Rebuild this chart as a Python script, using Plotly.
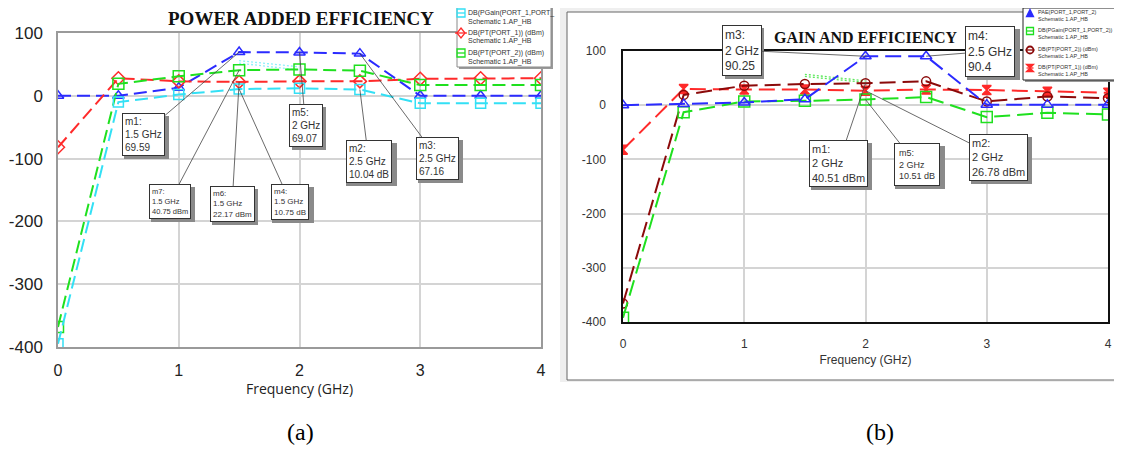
import plotly.graph_objects as go

# ---------------- data ----------------
freq = [0, 0.5, 1, 1.5, 2, 2.5, 3, 3.5, 4]

# panel (a) POWER ADDED EFFICIENCY
pae_a = [0, 0, 13, 69.59, 69.07, 67.16, 0, 0, 0]
pgain_a = [-395, -10, 2, 10.75, 12, 10.04, -12, -12, -12]
pt1_a = [-82, 28, 23, 22.17, 23, 23, 27, 28, 28]
pt2_a = [-368, 19, 31, 40.75, 42, 40, 17, 17, 17]
# faint dotted traces between 1.5 and 2 GHz
dotted_freq = [1.5, 2.0]
dotted_a1 = [56, 46]
dotted_a2 = [52, 41]

# panel (b) GAIN AND EFFICIENCY
pae_b = [0, 2, 5, 11, 90.25, 90.4, 1, 1, 1]
pgain_b = [-392, -13, 7, 8, 10.51, 15, -22, -14, -17]
pt2_b = [-366, 19, 36, 39, 40.51, 44, 7, 16, 13]
pt1_b = [-82, 30, 29, 29, 26.78, 29, 28, 25, 23]
dotted_b1 = [57, 45]
dotted_b2 = [53, 42]

x_ticks = [0, 1, 2, 3, 4]
y_ticks = [-400, -300, -200, -100, 0, 100]
y_tick_text = ["-400", "-300", "-200", "-100", "0", "100"]

legend_a = [("DB(PGain(PORT_1,PORT_", "Schematic 1.AP_HB"),
            ("DB(PT(PORT_1)) (dBm)", "Schematic 1.AP_HB"),
            ("DB(PT(PORT_2)) (dBm)", "Schematic 1.AP_HB")]
legend_b = [("PAE(PORT_1,PORT_2)", "Schematic 1.AP_HB"),
            ("DB(PGain(PORT_1,PORT_2))", "Schematic 1.AP_HB"),
            ("DB(PT(PORT_2)) (dBm)", "Schematic 1.AP_HB"),
            ("DB(PT(PORT_1)) (dBm)", "Schematic 1.AP_HB")]

# marker callouts: (name, freq, value, label lines)
markers_a = [
    ("m1", 1.5, 69.59, ["m1:", "1.5 GHz", "69.59"]),
    ("m5", 2.0, 69.07, ["m5:", "2 GHz", "69.07"]),
    ("m2", 2.5, 10.04, ["m2:", "2.5 GHz", "10.04 dB"]),
    ("m3", 2.5, 67.16, ["m3:", "2.5 GHz", "67.16"]),
    ("m7", 1.5, 40.75, ["m7:", "1.5 GHz", "40.75 dBm"]),
    ("m6", 1.5, 22.17, ["m6:", "1.5 GHz", "22.17 dBm"]),
    ("m4", 1.5, 10.75, ["m4:", "1.5 GHz", "10.75 dB"]),
]
markers_b = [
    ("m3", 2.0, 90.25, ["m3:", "2 GHz", "90.25"]),
    ("m4", 2.5, 90.4, ["m4:", "2.5 GHz", "90.4"]),
    ("m1", 2.0, 40.51, ["m1:", "2 GHz", "40.51 dBm"]),
    ("m5", 2.0, 10.51, ["m5:", "2 GHz", "10.51 dB"]),
    ("m2", 2.0, 26.78, ["m2:", "2 GHz", "26.78 dBm"]),
]

# ---------------- layout helpers ----------------
W, H = 1122, 452
OFF = 8  # page body margin
def px(v):
    return (v - OFF) / W
def py(v):
    return 1 - (v - OFF) / H

BLUE = "#2b2bff"
RED = "#ff2a2a"
GREEN = "#1fe01f"
CYAN = "#33e0f5"
MAROON = "#8b0a0a"

FONT = "Arial, Liberation Sans, sans-serif"
SERIF = "Times New Roman, Liberation Serif, serif"

fig = go.Figure()

dash_a = "13px,6px"
dash_b = "16px,7px"

def add_series(x, y, color, symbol, xa, ya, dash, size=10):
    fig.add_trace(go.Scatter(
        x=x, y=y, mode="lines+markers", xaxis=xa, yaxis=ya,
        line=dict(color=color, width=2, dash=dash),
        marker=dict(symbol=symbol, size=size, color=color,
                    line=dict(color=color, width=1.5)),
        showlegend=False, hoverinfo="x+y"))

def add_dotted(x, y, color, xa, ya):
    fig.add_trace(go.Scatter(
        x=x, y=y, mode="lines", xaxis=xa, yaxis=ya,
        line=dict(color=color, width=1.3, dash="2px,2px"),
        showlegend=False, hoverinfo="skip"))

# panel (a)
add_dotted(dotted_freq, dotted_a1, "#8ff0fa", "x", "y")
add_dotted(dotted_freq, dotted_a2, "#8ff0fa", "x", "y")
add_series(freq, pae_a, BLUE, "triangle-up-open", "x", "y", dash_a)
add_series(freq, pt1_a, RED, "diamond-open", "x", "y", dash_a)
add_series(freq, pt2_a, GREEN, "square-open", "x", "y", dash_a, 11)
add_series(freq, pgain_a, CYAN, "square-open", "x", "y", dash_a)

# panel (b)
add_dotted(dotted_freq, dotted_b1, "#5ee85e", "x2", "y2")
add_dotted(dotted_freq, dotted_b2, "#5ee85e", "x2", "y2")
add_series(freq, pt1_b, RED, "hourglass", "x2", "y2", dash_b, 9)
add_series(freq, pt2_b, MAROON, "circle-open", "x2", "y2", dash_b, 9)
add_series(freq, pgain_b, GREEN, "square-open", "x2", "y2", dash_b, 11)
add_series(freq, pae_b, BLUE, "triangle-up-open", "x2", "y2", dash_b)

axis_common = dict(showgrid=True, gridcolor="#d4d4d4", gridwidth=1.5,
                   zeroline=False, showline=True, mirror=True, ticks="",
                   automargin=False)

fig.update_layout(
    width=W, height=H, margin=dict(l=0, r=0, t=0, b=0, autoexpand=False),
    paper_bgcolor="white", plot_bgcolor="white", showlegend=False,
    xaxis=dict(domain=[px(58), px(541)], range=[0, 4], tickvals=x_ticks,
               anchor="y", linecolor="#9a9a9a", linewidth=1.5,
               tickfont=dict(family=FONT, size=16, color="#222"),
               ticklabelstandoff=8,
               title=dict(text="Frequency (GHz)", standoff=4,
                          font=dict(family="Open Sans, " + FONT, size=14, color="#222")),
               **axis_common),
    yaxis=dict(domain=[py(347), py(33)], range=[-400, 100], tickvals=y_ticks,
               ticktext=y_tick_text, anchor="x", linecolor="#9a9a9a", linewidth=1.5,
               tickfont=dict(family=FONT, size=17, color="#222"),
               ticklabelstandoff=10, **axis_common),
    xaxis2=dict(domain=[px(623), px(1108)], range=[0, 4], tickvals=x_ticks,
                anchor="y2", linecolor="#111", linewidth=1.5,
                tickfont=dict(family=FONT, size=12, color="#333"),
                ticklabelstandoff=10,
                title=dict(text="Frequency (GHz)", standoff=5,
                           font=dict(family=FONT, size=12, color="#333")),
                **axis_common),
    yaxis2=dict(domain=[py(322), py(51)], range=[-400, 100], tickvals=y_ticks,
                ticktext=y_tick_text, anchor="x2", linecolor="#111", linewidth=1.5,
                tickfont=dict(family=FONT, size=12, color="#333"),
                ticklabelstandoff=13, **axis_common),
)

shapes = [
    # gray backdrop of window (b)
    dict(type="rect", xref="paper", yref="paper", x0=px(560), x1=1.05,
         y0=py(382), y1=1.05, fillcolor="#efefef", line=dict(width=0), layer="below"),
    dict(type="rect", xref="paper", yref="paper", x0=px(567), x1=1.05,
         y0=py(380), y1=py(12), fillcolor="white",
         line=dict(color="#666", width=1), layer="below"),
    # top border line of (a)
    dict(type="line", xref="paper", yref="paper", x0=px(8), x1=px(555),
         y0=py(3), y1=py(3), line=dict(color="#9a9a9a", width=1.5), layer="below"),
]

ann = []

# ---------------- custom legends ----------------
def legend_box(x0, y0, x1, y1, border):
    shapes.append(dict(type="rect", xref="paper", yref="paper",
                       x0=px(x0 + 2), x1=px(x1 + 2), y0=py(y1 + 2), y1=py(y0 + 2),
                       fillcolor="#9a9a9a", line=dict(width=0), layer="above"))
    shapes.append(dict(type="rect", xref="paper", yref="paper",
                       x0=px(x0), x1=px(x1), y0=py(y1), y1=py(y0),
                       fillcolor="white", line=dict(color=border, width=1), layer="above"))

def path_shape(pts, color, fill):
    d = "M " + " L ".join(f"{px(a):.5f},{py(b):.5f}" for a, b in pts) + " Z"
    shapes.append(dict(type="path", xref="paper", yref="paper", path=d,
                       fillcolor=fill, line=dict(color=color, width=1.3), layer="above"))

def hline(x0, x1, y, color):
    shapes.append(dict(type="line", xref="paper", yref="paper", x0=px(x0), x1=px(x1),
                       y0=py(y), y1=py(y), line=dict(color=color, width=1.3), layer="above"))

def sym(kind, cx, cy, r, color):
    if kind == "square":
        path_shape([(cx - r, cy - r), (cx + r, cy - r), (cx + r, cy + r), (cx - r, cy + r)],
                   color, "rgba(0,0,0,0)")
        hline(cx - r, cx + r, cy, color)
    elif kind == "diamond":
        path_shape([(cx, cy - r - 1), (cx + r, cy), (cx, cy + r + 1), (cx - r, cy)],
                   color, "rgba(0,0,0,0)")
        hline(cx - r - 2, cx + r + 2, cy, color)
    elif kind == "triangle":
        path_shape([(cx, cy - r), (cx + r, cy + r), (cx - r, cy + r)], color, color)
    elif kind == "circle":
        shapes.append(dict(type="circle", xref="paper", yref="paper",
                           x0=px(cx - r), x1=px(cx + r), y0=py(cy + r), y1=py(cy - r),
                           fillcolor="rgba(0,0,0,0)", line=dict(color=color, width=1.8),
                           layer="above"))
        hline(cx - r - 1, cx + r + 1, cy, color)
    elif kind == "hourglass":
        path_shape([(cx - r, cy - r), (cx + r, cy - r), (cx - r, cy + r), (cx + r, cy + r)],
                   color, color)
        hline(cx - r, cx + r, cy, color)

def legend_text(x, y, text, size):
    ann.append(dict(text=text, x=px(x), y=py(y), xref="paper", yref="paper",
                    xanchor="left", yanchor="middle", showarrow=False,
                    font=dict(family=FONT, size=size, color="#333")))

# legend (a)
legend_box(457, 4, 551, 67, "#8a8a8a")
for (l1, l2), kind, color, yc in zip(legend_a, ["square", "diamond", "square"],
                                      [CYAN, RED, GREEN], [13, 33, 53]):
    sym(kind, 461, yc, 4, color)
    legend_text(466, yc, l1, 7.0)
    legend_text(466, yc + 8.5, l2, 7.0)

# legend (b)
legend_box(1023, 8, 1130, 80, "#222")
for (l1, l2), kind, color, yc in zip(legend_b, ["triangle", "square", "circle", "hourglass"],
                                      [BLUE, GREEN, MAROON, RED], [13, 31, 50, 68]):
    sym(kind, 1030, yc, 3.5, color)
    legend_text(1036, yc - 1, l1, 5.5)
    legend_text(1036, yc + 6, l2, 5.5)

fig.update_layout(shapes=shapes)

def label(text, x, y, size, family=SERIF, color="#111"):
    ann.append(dict(text=text, x=px(x), y=py(y), xref="paper", yref="paper",
                    xanchor="center", yanchor="middle", showarrow=False,
                    font=dict(family=family, size=size, color=color)))

# titles and captions
label("<b>POWER ADDED EFFICIENCY</b>", 301, 18, 19)
label("<b>GAIN AND EFFICIENCY</b>", 866, 37, 16)
label("(a)", 300, 432, 24, color="#000")
label("(b)", 880, 432, 24, color="#000")

# marker callouts: box centre offset (px) relative to marked point, font size, padding
off_a = {"m1": (-96, 82, 10, 2), "m5": (6, 73, 10, 2), "m2": (9, 72, 10, 2),
         "m3": (78, 105, 10, 2), "m7": (-69, 131, 7.5, 2), "m6": (-7, 122, 8, 2),
         "m4": (51, 113, 8, 2)}
off_b = {"m3": (-124, -6, 12, 2), "m4": (64, -5, 12, 2), "m1": (-27, 80, 11, 2),
         "m5": (51, 65, 9, 4), "m2": (133, 67, 11, 2)}

FIG_SPACE = "\u2007"

def callouts(items, offs, xr, yr):
    for key, fx, fv, lines in items:
        dx, dy, fs, pad = offs[key]
        text = "<br>".join(lines)
        blank = "<br>".join(FIG_SPACE * len(l) for l in lines)
        # drop shadow (blank box of the same size, shifted)
        ann.append(dict(x=fx, y=fv, xref=xr, yref=yr, ax=dx, ay=dy, text=blank,
                        showarrow=True, arrowcolor="rgba(0,0,0,0)", arrowhead=0,
                        xshift=3, yshift=-3, align="left", bgcolor="#8a8a8a",
                        bordercolor="#8a8a8a", borderwidth=1, borderpad=pad,
                        font=dict(family=FONT, size=fs, color="#8a8a8a")))
        ann.append(dict(x=fx, y=fv, xref=xr, yref=yr, ax=dx, ay=dy, text=text,
                        showarrow=True, arrowcolor="#444", arrowwidth=0.8,
                        arrowhead=0, standoff=0, align="left", bgcolor="white",
                        bordercolor="#333", borderwidth=1, borderpad=pad,
                        font=dict(family=FONT, size=fs, color="#333")))

callouts(markers_a, off_a, "x", "y")
callouts(markers_b, off_b, "x2", "y2")

fig.update_layout(annotations=ann)
fig.write_html("out.html")
